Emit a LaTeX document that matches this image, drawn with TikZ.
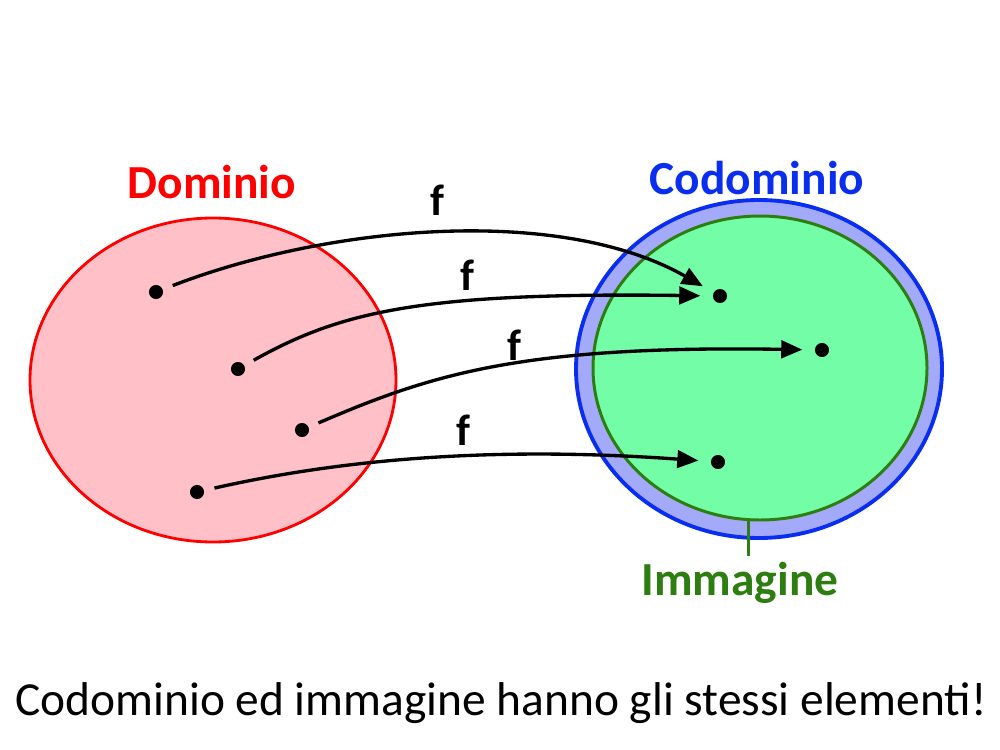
\documentclass[tikz,border=0pt]{standalone}
\usepackage{fontspec}
\setmainfont{Carlito}
\usetikzlibrary{arrows.meta}
\definecolor{rosa}{HTML}{FFC0C8}
\definecolor{blu}{HTML}{0A2EF0}
\definecolor{blufill}{HTML}{A3AAFA}
\definecolor{verde}{HTML}{2E7D10}
\definecolor{verdefill}{HTML}{72FDA6}

\begin{document}
\begin{tikzpicture}[x=0.02cm, y=-0.02cm,
  pt/.style={circle, fill=black, inner sep=0pt, minimum size=8pt},
  fn/.style={line width=1.9pt, -{Triangle[length=12pt,width=10pt]}, shorten <=6pt, shorten >=7pt},
  lbl/.style={font=\fontsize{27}{30}\selectfont\bfseries},
  flbl/.style={font=\fontsize{25}{28}\selectfont\bfseries}]
  \useasboundingbox (0,0) rectangle (1000,750);
  % insiemi
  \draw[red, fill=rosa, line width=1.6pt] (213,380) ellipse [x radius=183, y radius=162];
  \draw[blu, fill=blufill, line width=2.2pt] (759,369) ellipse [x radius=183, y radius=169];
  \draw[verde, fill=verdefill, line width=1.7pt] (760,368) ellipse [x radius=167, y radius=152];
  \node[lbl, text=red] (dom) at (212,182) {Dominio};
  \node[lbl, text=blu] (cod) at (757,178) {Codominio};
  \node[lbl, text=verde] (imm) at (740,583) {Immagine};
  \coordinate (bordo) at (748,520);
  \draw[verde, line width=1.7pt] (bordo) -- (imm.north -| bordo);
  % elementi
  \node[pt] (a1) at (156,292) {};
  \node[pt] (a2) at (238,369) {};
  \node[pt] (a3) at (302,430) {};
  \node[pt] (a4) at (197,492) {};
  \node[pt] (b1) at (720,296) {};
  \node[pt] (b2) at (822,350) {};
  \node[pt] (b3) at (718,462) {};
  % frecce
  \draw[fn] (a1) .. controls (330,225) and (560,205) .. (b1);
  \draw[fn] (a2) .. controls (340,312) and (420,292) .. (b1);
  \draw[fn] (a3) .. controls (430,375) and (520,345) .. (b2);
  \draw[fn] (a4) .. controls (330,462) and (480,445) .. (b3);
  \node[flbl] (f1) at (437,200) {f};
  \node[flbl] (f2) at (467,275) {f};
  \node[flbl] (f3) at (514,345) {f};
  \node[flbl] (f4) at (463,430) {f};
  \node[font=\fontsize{27}{31}\selectfont] (nota) at (501,703) {Codominio ed immagine hanno gli stessi elementi!};
\end{tikzpicture}
\end{document}
